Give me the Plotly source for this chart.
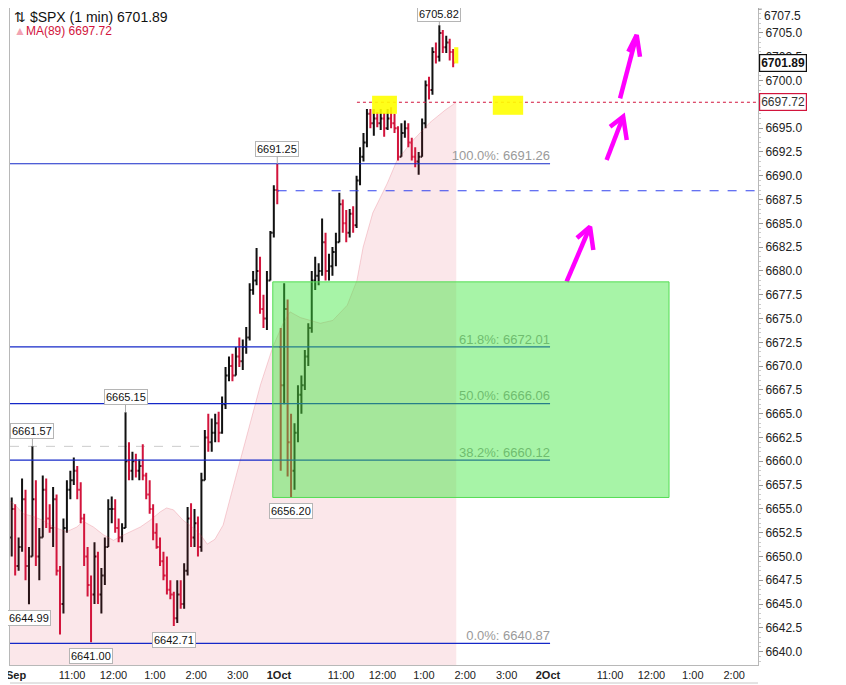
import plotly.graph_objects as go

# 5-minute bars (session = 390 trading minutes)
DAY = 390
BAR = 5

sep30_open = [6652, 6655, 6649, 6651, 6656, 6649, 6650, 6656, 6650, 6652,
              6657, 6654, 6653, 6656, 6648.5, 6645, 6653, 6657, 6658, 6659,
              6657, 6654, 6650, 6647, 6646, 6650, 6646, 6648, 6651, 6655,
              6655, 6653, 6652, 6653, 6660, 6659, 6660, 6659, 6659.5, 6658.5,
              6656.5, 6655, 6652.5, 6651, 6649.5, 6648, 6646.5, 6646, 6643.5, 6646,
              6645, 6648.5, 6654, 6652, 6653.5, 6651, 6658, 6662.5, 6662, 6663,
              6664, 6663, 6666, 6669, 6670, 6669, 6671, 6670.5, 6672, 6673,
              6678, 6679, 6680, 6676, 6675, 6679, 6684, 6688.5]
sep30_high = [6656.2, 6655.5, 6652, 6658.2, 6657, 6651, 6661.57, 6658, 6653, 6658.5,
              6658.2, 6655.5, 6657.3, 6656.5, 6649, 6654, 6658, 6659, 6660.4, 6659.5,
              6657.8, 6654.5, 6651, 6648, 6651.5, 6650.5, 6648.8, 6652, 6656, 6656.3,
              6656, 6654, 6653.5, 6665.15, 6662, 6661, 6660.8, 6660.2, 6661.8, 6658.8,
              6658, 6655.5, 6653.5, 6652, 6650.5, 6650, 6647.5, 6646.3, 6647.5, 6647.5,
              6649.3, 6655.2, 6655.6, 6655, 6654.2, 6658.8, 6663.3, 6665, 6664.5, 6665,
              6665.2, 6666.8, 6669.9, 6671, 6671.3, 6672, 6673, 6672.8, 6674.1, 6678.7,
              6680, 6682.4, 6681.5, 6677.5, 6680, 6684.2, 6689, 6691.25]
sep30_low = [6650, 6648, 6648.5, 6650.5, 6647.5, 6644.99, 6650, 6649, 6647.5, 6652,
             6653, 6652.5, 6651, 6648, 6641.8, 6644, 6652.5, 6656, 6657.5, 6656,
             6653.5, 6649, 6645.8, 6641.00, 6645, 6645, 6644, 6647, 6651, 6653.5,
             6652.5, 6651.5, 6651.5, 6653, 6658, 6658, 6658.3, 6658, 6658, 6656,
             6654.5, 6651.7, 6650.8, 6649, 6647.5, 6646, 6645.5, 6642.71, 6643, 6644.5,
             6644.5, 6648, 6651, 6651, 6650, 6650.5, 6658, 6661, 6661, 6662,
             6662, 6662.9, 6665.5, 6668.4, 6668.4, 6669, 6669.9, 6669.6, 6671.3, 6672.7,
             6677.5, 6678.5, 6675.5, 6674, 6673.8, 6679, 6683.5, 6687]
sep30_close = [6655, 6649, 6651, 6656, 6649, 6650, 6656, 6650, 6652, 6657,
               6654, 6653, 6656, 6648.5, 6645, 6653, 6657, 6658, 6659, 6657,
               6654, 6650, 6647, 6646, 6650, 6646, 6648, 6651, 6655, 6655,
               6653, 6652, 6653, 6660, 6659, 6660, 6659, 6659.5, 6658.5, 6656.5,
               6655, 6652.5, 6651, 6649.5, 6648, 6646.5, 6646, 6643.5, 6646, 6645,
               6648.5, 6654, 6652, 6653.5, 6651, 6658, 6662.5, 6662, 6663, 6664,
               6663, 6666, 6669, 6670, 6669, 6671, 6670.5, 6672, 6673, 6678,
               6679, 6680, 6676, 6675, 6679, 6684, 6688.5, 6688.42]

oct1_open = [6672, 6668, 6676, 6662, 6659, 6663, 6667, 6668, 6671, 6674,
             6679, 6679.5, 6680, 6683, 6680, 6680.5, 6682, 6683, 6687, 6685,
             6684, 6686, 6684.8, 6689.5, 6692, 6693.5, 6696.5, 6695.5, 6696, 6695.5,
             6696, 6695, 6696, 6695.5, 6695, 6692, 6694.5, 6695, 6693.5, 6692,
             6691.5, 6692, 6695.5, 6699.5, 6699, 6703, 6702.5, 6705, 6703.5, 6704,
             6703]
oct1_high = [6674, 6678.7, 6677, 6665, 6664, 6668, 6669, 6671.7, 6674.5, 6680,
             6681.5, 6680.8, 6685.5, 6684, 6681.8, 6682.5, 6684, 6688.2, 6687.5, 6686.4,
             6686.5, 6686.8, 6690, 6693, 6694.5, 6697, 6697, 6697, 6696.7, 6697,
             6696.6, 6697, 6697.2, 6696.5, 6695.2, 6695.5, 6695.8, 6695.5, 6694, 6693,
             6692.5, 6696, 6700, 6700.4, 6703.5, 6704, 6705.82, 6705.3, 6704.7, 6704.4,
             6703.3]
oct1_low = [6659, 6666, 6658.4, 6656.20, 6657, 6662, 6665, 6667.5, 6670, 6673.5,
            6678, 6678.5, 6679.5, 6679, 6679, 6679.5, 6680.5, 6683, 6684, 6683,
            6683.5, 6684, 6684.5, 6689, 6691.5, 6693, 6695, 6694.2, 6695.1, 6694.8,
            6694.1, 6694.8, 6695, 6694.5, 6691.6, 6692, 6694, 6693, 6691.6, 6690.9,
            6690.1, 6692, 6695, 6698, 6698.5, 6701.8, 6702, 6702.9, 6702.9, 6702.1,
            6701.4]
oct1_close = [6668, 6676, 6662, 6659, 6663, 6667, 6668, 6671, 6674, 6679,
              6679.5, 6680, 6683, 6680, 6680.5, 6682, 6683, 6687, 6685, 6684,
              6686, 6684.8, 6689.5, 6692, 6693.5, 6696.5, 6695.5, 6696, 6695.5, 6696,
              6695, 6696, 6695.5, 6695, 6692, 6694.5, 6695, 6693.5, 6692, 6691.5,
              6692, 6695.5, 6699.5, 6699, 6703, 6702.5, 6705, 6703.5, 6704, 6703,
              6701.89]

# MA(89) (minute of the 2-day session, value)
ma_minute = [0, 5, 19, 34, 48, 63, 82, 97, 106, 121, 135, 150, 160, 174, 189,
             203, 218, 227, 237, 251, 266, 276, 286, 297, 309, 326, 344, 363, 381,
             396, 406, 421, 450, 468, 489, 503, 512, 526, 547, 561, 584, 609, 631, 647]
ma_value = [6655.8, 6655.6, 6654.5, 6654.2, 6653.8, 6653.1, 6652.6, 6653.1, 6653.7,
            6653.1, 6652.3, 6651.7, 6652.1, 6652.6, 6653.1, 6653.8, 6654.7, 6655.1,
            6654.9, 6653.8, 6653.0, 6652.3, 6651.3, 6651.8, 6653.3, 6658.0, 6662.8,
            6668.0, 6672.0, 6674.5, 6675.7, 6675.1, 6674.5, 6674.8, 6676.4, 6679.0,
            6682.5, 6686.1, 6689.2, 6691.6, 6693.7, 6695.6, 6696.9, 6697.72]

fib_pct = ["0.0%", "38.2%", "50.0%", "61.8%", "100.0%"]
fib_level = [6640.87, 6660.12, 6666.06, 6672.01, 6691.26]
fib_end = 783

hilo_bar = [5, 6, 23, 33, 47, 77, 81, 124]
hilo_kind = ["low", "high", "low", "high", "low", "high", "low", "high"]

last_price = 6701.89
ma_last = 6697.72
prev_close = 6688.42
swing_high_line = 6661.57

zone_minute = [381, 955.5]
zone_price = [6656.20, 6678.85]

highlight_minute = [(525, 561), (644, 650), (700, 744)]
highlight_price = [(6696.5, 6698.4), (6701.8, 6703.5), (6696.4, 6698.4)]

arrow_tail = [(807, 6678.87), (865, 6691.65), (884.5, 6698.13)]
arrow_tip = [(841, 6684.64), (889, 6696.2), (908.6, 6704.78)]
arrow_left = [(822, 6683.45), (870, 6695.15), (896.5, 6703.03)]
arrow_right = [(845.7, 6682.2), (894.2, 6693.75), (913.4, 6702.5)]

tick_minute = [0, 90, 150, 210, 270, 330, 390, 480, 540, 600, 660, 720,
               780, 870, 930, 990, 1050]
tick_text = ["<b>30Sep</b>", "11:00", "12:00", "1:00", "2:00", "3:00", "<b>1Oct</b>",
             "11:00", "12:00", "1:00", "2:00", "3:00", "<b>2Oct</b>",
             "11:00", "12:00", "1:00", "2:00"]
price_ticks = [6640 + 2.5 * k for k in range(27)]   # 6640.0 ... 6705.0
top_price_tick = 6707.5

X_MAX = 1084.5
Y_RANGE = [6638.60, 6707.62]

opens = sep30_open + oct1_open
highs = sep30_high + oct1_high
lows = sep30_low + oct1_low
closes = sep30_close + oct1_close
bar_x = [i * BAR + BAR / 2 for i in range(len(sep30_close))] + \
        [DAY + i * BAR + BAR / 2 for i in range(len(oct1_close))]

FONT = "Liberation Sans, Arial, sans-serif"
BLUE = "#1428c8"
RED = "#d2143c"

fig = go.Figure()

# MA(89) shaded area
fig.add_trace(go.Scatter(x=ma_minute, y=ma_value, mode="lines", fill="tozeroy",
                         line=dict(color="rgba(220,60,80,0.22)", width=1),
                         fillcolor="rgba(220,40,60,0.11)", hoverinfo="skip"))

fig.add_trace(go.Ohlc(x=bar_x, open=opens, high=highs, low=lows, close=closes,
                      increasing=dict(line=dict(color="#111111", width=2)),
                      decreasing=dict(line=dict(color=RED, width=2)),
                      tickwidth=0.45))

# fib labels as text marks (so the zone box tints them)
fig.add_trace(go.Scatter(x=[fib_end] * len(fib_level), y=fib_level, mode="text",
                         text=[f"{p}: {v:.2f}" for p, v in zip(fib_pct, fib_level)],
                         textposition="top left",
                         textfont=dict(family=FONT, size=13, color="#9a9a9a"),
                         hoverinfo="skip"))

# hand-drawn magenta arrows
ax_, ay_ = [], []
for t, p, l, r in zip(arrow_tail, arrow_tip, arrow_left, arrow_right):
    ax_ += [t[0], p[0], None, l[0], p[0], r[0], None]
    ay_ += [t[1], p[1], None, l[1], p[1], r[1], None]
fig.add_trace(go.Scatter(x=ax_, y=ay_, mode="lines",
                         line=dict(color="#ff00ff", width=4.5), hoverinfo="skip"))

shapes = []
shapes.append(dict(type="line", xref="x", yref="y", x0=0, x1=275,
                   y0=swing_high_line, y1=swing_high_line, layer="below",
                   line=dict(color="#cccccc", width=1, dash="dash")))
for lv in fib_level:
    shapes.append(dict(type="line", xref="x", yref="y", x0=0, x1=fib_end, y0=lv, y1=lv,
                       line=dict(color=BLUE, width=1.2)))
shapes.append(dict(type="line", xref="x", yref="y", x0=388, x1=X_MAX,
                   y0=prev_close, y1=prev_close,
                   line=dict(color="#3344ee", width=1.2, dash="dash")))
shapes.append(dict(type="line", xref="x", yref="y", x0=503, x1=X_MAX,
                   y0=ma_last, y1=ma_last, line=dict(color=RED, width=1.2, dash="dot")))
shapes.append(dict(type="rect", xref="x", yref="y",
                   x0=zone_minute[0], x1=zone_minute[1], y0=zone_price[0], y1=zone_price[1],
                   fillcolor="rgba(60,230,60,0.45)", line=dict(color="#55dd55", width=1)))
for (m0, m1), (p0, p1) in zip(highlight_minute, highlight_price):
    shapes.append(dict(type="rect", xref="x", yref="y", x0=m0, x1=m1, y0=p0, y1=p1,
                       fillcolor="#ffff00", line=dict(width=0), opacity=0.9))
# tick mark for the top price level (its label sits at the top edge)
shapes.append(dict(type="line", xref="paper", yref="y", x0=1, x1=1.0053,
                   y0=top_price_tick, y1=top_price_tick, line=dict(color="#999999", width=1)))
# bottom line of the time-axis panel
shapes.append(dict(type="line", xref="paper", yref="paper", x0=0, x1=1,
                   y0=-18 / 657, y1=-18 / 657, line=dict(color="#c8c8c8", width=1)))

annotations = []
for idx, kind in zip(hilo_bar, hilo_kind):
    val = highs[idx] if kind == "high" else lows[idx]
    annotations.append(dict(x=bar_x[idx], y=val, xref="x", yref="y", text=f"{val:.2f}",
                            showarrow=True, arrowhead=0, arrowwidth=1, arrowcolor="#aaaaaa",
                            ax=0, ay=(-11 if val == max(highs) else -15) if kind == "high" else 14,
                            bgcolor="white", bordercolor="#b5b5b5", borderwidth=1, borderpad=1,
                            font=dict(family=FONT, size=11, color="#111111")))

annotations.append(dict(xref="paper", yref="paper", x=1, y=1, xanchor="left", yanchor="top",
                        xshift=4, yshift=1, text=f"{top_price_tick:.1f}", showarrow=False,
                        font=dict(family=FONT, size=12, color="#222222")))
annotations.append(dict(xref="paper", yref="y", x=1, y=last_price, xanchor="left",
                        xshift=1, text=f"<b>{last_price:.2f}</b>", showarrow=False,
                        bgcolor="white", bordercolor="#111111", borderwidth=1.2, borderpad=1,
                        font=dict(family=FONT, size=12, color="#111111")))
annotations.append(dict(xref="paper", yref="y", x=1, y=ma_last, xanchor="left",
                        xshift=1, text=f"{ma_last:.2f}", showarrow=False,
                        bgcolor="white", bordercolor=RED, borderwidth=1.2, borderpad=1,
                        font=dict(family=FONT, size=12, color="#333333")))

annotations.append(dict(xref="paper", yref="paper", x=0.003, y=1.0, xanchor="left",
                        yanchor="top", yshift=1, showarrow=False,
                        text=f"⇅ $SPX (1 min) {last_price:.2f}",
                        font=dict(family=FONT, size=14, color="#111111")))
annotations.append(dict(xref="paper", yref="paper", x=0.003, y=0.978, xanchor="left",
                        yanchor="top", showarrow=False,
                        text=f"<span style='color:#f2a3b3'>▲</span>MA(89) {ma_last:.2f}",
                        font=dict(family=FONT, size=12, color=RED)))

# page body adds an 8px margin, so the figure is sized to sit inside the window
fig.update_layout(
    width=838, height=677,
    margin=dict(l=2, r=88, t=0, b=20, autoexpand=False),
    paper_bgcolor="white", plot_bgcolor="white",
    showlegend=False,
    shapes=shapes,
    annotations=annotations,
    xaxis=dict(range=[0, X_MAX], tickmode="array", tickvals=tick_minute, ticktext=tick_text,
               showgrid=False, zeroline=False, showline=True, linecolor="#b8b8b8",
               mirror=True, ticks="", rangeslider=dict(visible=False),
               automargin=False, ticklabeloverflow="allow",
               tickfont=dict(family=FONT, size=11, color="#222222")),
    yaxis=dict(range=Y_RANGE, side="right", tickmode="array", tickvals=price_ticks,
               tickformat=".1f",
               showgrid=False, zeroline=False, showline=True, linecolor="#b8b8b8",
               mirror=True, ticks="outside", ticklen=4, tickcolor="#999999",
               automargin=False,
               minor=dict(dtick=0.5, ticks="outside", ticklen=2, tickcolor="#cccccc"),
               tickfont=dict(family=FONT, size=12, color="#222222")),
)

fig.write_html("out.html")
